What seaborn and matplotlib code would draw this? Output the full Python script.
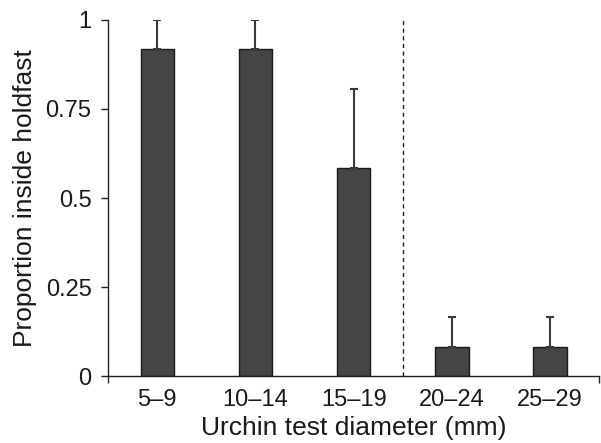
import matplotlib
matplotlib.use("Agg")
import matplotlib.pyplot as plt
import seaborn as sns
import pandas as pd
import numpy as np

categories = ["5–9", "10–14", "15–19", "20–24", "25–29"]
proportion = [0.917, 0.917, 0.583, 0.083, 0.083]
upper_err = [0.083, 0.083, 0.222, 0.084, 0.084]
yticks = [0, 0.25, 0.5, 0.75, 1]
ytick_labels = ["0", "0.25", "0.5", "0.75", "1"]

sns.set_theme(style="white")
plt.rcParams["font.family"] = ["Liberation Sans", "DejaVu Sans"]

df = pd.DataFrame({"size": categories, "prop": proportion})

fig = plt.figure(figsize=(6.01, 4.43), dpi=100)
ax = fig.add_axes([0.18, 0.151, 0.817, 0.804])

sns.barplot(data=df, x="size", y="prop", color="#454545", width=0.34,
            edgecolor="#1a1a1a", linewidth=1.0, saturation=1, errorbar=None, ax=ax)

xpos = np.arange(len(categories))
ax.errorbar(xpos, proportion, yerr=[np.zeros(len(upper_err)), upper_err],
            fmt="none", ecolor="#3a3a3a", elinewidth=1.5, capsize=3, capthick=1.5)

ax.axvline(2.5, color="#222222", linestyle=(0, (3, 2.5)), linewidth=1.0)

ax.set_xlim(-0.5, 4.5)
ax.set_ylim(0, 1)
ax.set_yticks(yticks)
ax.set_yticklabels(ytick_labels)
ax.set_xticks(xpos)
ax.set_xticklabels(categories)
ax.set_xticks([-0.5, 4.5], minor=True)

for s in ["top", "right"]:
    ax.spines[s].set_visible(False)
for s in ["left", "bottom"]:
    ax.spines[s].set_color("#222222")
    ax.spines[s].set_linewidth(1.0)

ax.tick_params(axis="y", which="major", left=True, length=5, width=1.0, color="#222222",
               labelsize=17, pad=7, labelcolor="#1a1a1a")
ax.tick_params(axis="x", which="major", bottom=False, labelsize=17, pad=3, labelcolor="#1a1a1a")
ax.tick_params(axis="x", which="minor", bottom=True, length=5, width=1.0, color="#222222")

ax.set_xlabel("Urchin test diameter (mm)", fontsize=19, color="#1a1a1a", labelpad=4)
ax.set_ylabel("Proportion inside holdfast", fontsize=19, color="#1a1a1a", labelpad=6)

fig.savefig("out.png", dpi=100)
